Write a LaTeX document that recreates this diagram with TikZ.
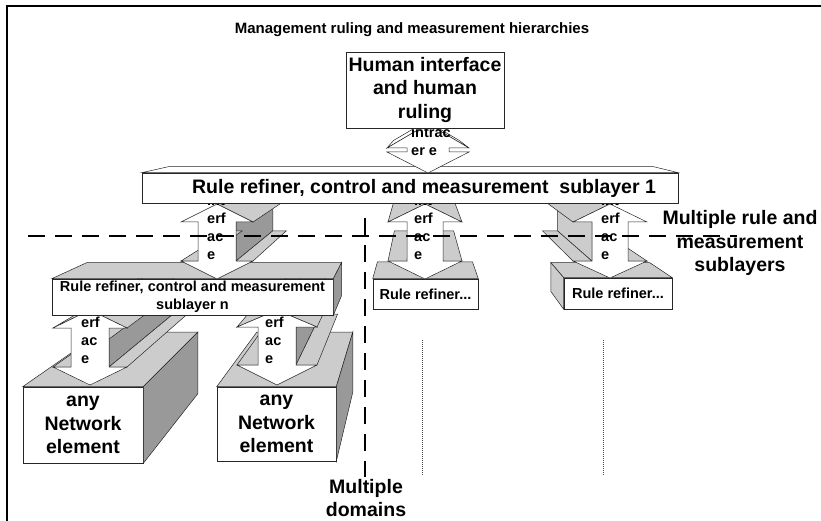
\documentclass[tikz,border=0pt]{standalone}
\usepackage{fontspec}
\setmainfont{Liberation Sans}
\usetikzlibrary{calc}
\usetikzlibrary{positioning}

\definecolor{lightface}{gray}{0.8}
\definecolor{darkface}{gray}{0.6}

% 3D double arrow: name, x, upper tip, upper base, lower base, lower tip, head half, shaft half, visible faces
\newcommand{\blockarrow}[9]{%
  \coordinate (#1-1) at (#2,#3);
  \coordinate (#1-2) at (#2+#7,#4);
  \coordinate (#1-3) at (#2+#8,#4);
  \coordinate (#1-4) at (#2+#8,#5);
  \coordinate (#1-5) at (#2+#7,#5);
  \coordinate (#1-6) at (#2,#6);
  \coordinate (#1-7) at (#2-#7,#5);
  \coordinate (#1-8) at (#2-#8,#5);
  \coordinate (#1-9) at (#2-#8,#4);
  \coordinate (#1-10) at (#2-#7,#4);
  \foreach \ia/\ib/\col in {#9}
    \filldraw[face, fill=\col] (#1-\ia) -- (#1-\ib) -- ($(#1-\ib)!0.2!(vp)$) -- ($(#1-\ia)!0.2!(vp)$) -- cycle;
  \filldraw[face, fill=white] (#1-1) \foreach \k in {2,...,10}{ -- (#1-\k)} -- cycle;
}
\newcommand{\topface}[3]{\filldraw[face, fill=#3] (#1.north west) -- ($(#1.north west)!#2!(vp)$) -- ($(#1.north east)!#2!(vp)$) -- (#1.north east) -- cycle;}
\newcommand{\sideface}[4]{\filldraw[face, fill=#3] (#1.north #4) -- ($(#1.north #4)!#2!(vp)$) -- ($(#1.south #4)!#2!(vp)$) -- (#1.south #4) -- cycle;}

\begin{document}
\begin{tikzpicture}[x=1pt, y=-1pt,
  box/.style={draw=black!85, fill=white, line width=0.6pt, inner sep=1pt, align=center},
  face/.style={draw=black!85, line width=0.5pt},
  big/.style={font=\fontsize{19.5}{23.5}\selectfont\bfseries},
  small/.style={font=\fontsize{14.5}{17.5}\selectfont\bfseries},
  iface/.style={font=\fontsize{14.5}{18}\selectfont\bfseries, align=left, inner sep=0pt},
  sepline/.style={line width=1.8pt, dash pattern=on 17pt off 10pt},
  dotline/.style={line width=0.7pt, black!70, dash pattern=on 1pt off 1pt}]
\useasboundingbox (0,0) rectangle (821,521);
\coordinate (vp) at (420,110);

% network elements
\node[box, big, minimum width=120pt, minimum height=76pt] (ne1) at (83,425) {any\\Network\\element};
\topface{ne1}{0.197}{lightface}
\sideface{ne1}{0.197}{darkface}{east}
\node[box, big, minimum width=119pt, minimum height=74pt] (ne2) at (276.5,424) {any\\Network\\element};
\topface{ne2}{0.197}{lightface}
\sideface{ne2}{0.197}{darkface}{east}

\blockarrow{a4}{90}{310}{328}{367}{385}{37}{19}{10/1/lightface,3/4/darkface,4/5/lightface,7/8/lightface,1/2/lightface}
\node[iface, anchor=north west] (a4txt) at (81,299) {int\\erf\\ac\\e};
\blockarrow{a5}{277}{310}{327}{365}{385}{40}{19}{10/1/lightface,3/4/darkface,4/5/lightface,7/8/lightface,1/2/lightface}
\node[iface, anchor=north west] (a5txt) at (265,299) {int\\erf\\ac\\e};

% sublayer n and the other refiners
\node[box, small, minimum width=281pt, minimum height=36pt] (subn) at (192.5,297) {Rule refiner, control and measurement\\sublayer n};
\topface{subn}{0.096}{lightface}
\sideface{subn}{0.096}{darkface}{east}
\node[box, small, minimum width=105pt, minimum height=30pt] (rr1) at (425.5,294) {Rule refiner...};
\topface{rr1}{0.1}{lightface}
\node[box, small, minimum width=108pt, minimum height=31pt] (rr2) at (618,293.5) {Rule refiner...};
\topface{rr2}{0.09}{lightface}
\sideface{rr2}{0.09}{lightface}{west}

\blockarrow{a1}{217}{204}{222}{261}{279}{36}{19}{3/4/darkface,4/5/lightface,7/8/lightface,1/2/lightface}
\node[iface, anchor=north west] (a1txt) at (207,195) {int\\erf\\ac\\e};
\blockarrow{a2}{425}{204}{222}{261}{279}{37}{18}{4/5/lightface,7/8/lightface,10/1/lightface,1/2/lightface}
\node[iface, anchor=north west] (a2txt) at (414,195) {int\\erf\\ac\\e};
\blockarrow{a3}{610}{204}{222}{261}{278}{37}{18}{4/5/lightface,7/8/lightface,8/9/lightface,10/1/lightface}
\node[iface, anchor=north west] (a3txt) at (601,195) {int\\erf\\ac\\e};

% sublayer 1
\node[box, minimum width=536pt, minimum height=30pt] (sub1) at (410,188) {};
\topface{sub1}{0.095}{white}
\node[big] (sub1txt) at (424,188) {Rule refiner, control and measurement\ \ sublayer 1};

\blockarrow{a0}{428}{124}{148}{152}{173}{41}{21}{10/1/white,1/2/white}
\node[iface, anchor=north west] (a0txt) at (411,127) {intrac\\er e};

\node[box, big, font=\fontsize{19.5}{23.5}\selectfont\bfseries, minimum width=158pt, minimum height=76pt] (human) at (425,90) {Human interface\\and human\\ruling};

% domains and layers
\coordinate (hl1) at (28,236);
\coordinate (hl2) at (737,236);
\draw[sepline] (hl1) -- (hl2);
\coordinate (vl1) at (365,218);
\coordinate (vl2) at (365,477);
\draw[sepline] (vl1) -- (vl2);
\coordinate (d1) at (422,340);
\coordinate (d2) at (422,475);
\draw[dotline] (d1) -- (d2);
\coordinate (d3) at (603,340);
\coordinate (d4) at (603,475);
\draw[dotline] (d3) -- (d4);

\node[big, align=center] (layers) at (740,243) {Multiple rule and\\measurement\\sublayers};
\node[big, align=center] (domains) at (366,498) {Multiple\\domains};
\node[font=\fontsize{15}{18}\selectfont\bfseries] (title) at (412,30) {Management ruling and measurement hierarchies};

% frame
\draw[line width=2pt] (6,6) -- (821,6);
\draw[line width=1.5pt] (7,6) -- (7,521);
\end{tikzpicture}
\end{document}
